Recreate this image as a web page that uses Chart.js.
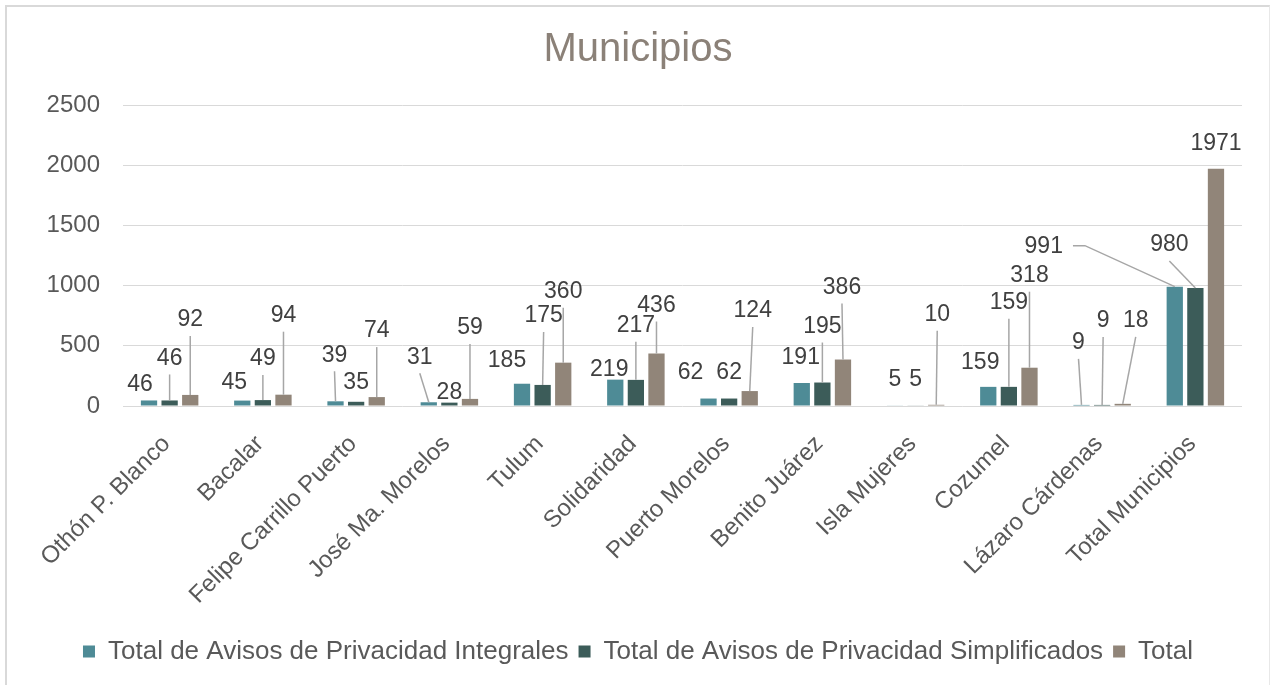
<!DOCTYPE html>
<html><head><meta charset="utf-8">
<script src="https://cdn.jsdelivr.net/npm/chart.js@4/dist/chart.umd.min.js"></script>
<style>
html,body{margin:0;padding:0;background:#fff;overflow:hidden;}
#wrap{position:absolute;left:5px;top:5px;width:1262px;height:678px;border-left:2px solid #D9D9D9;border-top:2px solid #D9D9D9;border-right:1px solid #E8E8E8;}
canvas{display:block;}
</style></head><body>
<div id="wrap"><canvas id="c" width="1262" height="678"></canvas></div>
<script>
const categories = ["Othón P. Blanco","Bacalar","Felipe Carrillo Puerto","José Ma. Morelos","Tulum","Solidaridad","Puerto Morelos","Benito Juárez","Isla Mujeres","Cozumel","Lázaro Cárdenas","Total Municipios"];
const seriesNames = ["Total de Avisos de Privacidad Integrales","Total de Avisos de Privacidad Simplificados","Total"];
const integrales = [46,45,39,31,185,219,62,191,5,159,9,991];
const simplificados = [46,49,35,28,175,217,62,195,5,159,9,980];
const totales = [92,94,74,59,360,436,124,386,10,318,18,1971];
const yTicks = [0,500,1000,1500,2000,2500];
const chartTitle = "Municipios";

const FONT = "'Liberation Sans', Arial, sans-serif";
const colors = ["#4E8B96","#3C5C59","#918579"];

// label placement (style): [dx, dy, leaderType] relative to top-centre of each bar
const labelPlacement = [
  [[-9,-17,0],[-8,-19,0],[-1,-47,1],[-9,-46,1],[-15,-24,0],[-6,-11,0],[-18,-27,0],[-1,-26,0],[0,-27,0],[-8,-25,0],[-3,-63,1],[-131,-41,2]],
  [[0,-43,1],[0,-42,1],[0,-20,0],[0,-11,0],[1,-70,1],[0,-55,1],[0,-27,0],[0,-57,1],[0,-27,0],[0,-85,1],[1,-85,1],[-26,-44,1]],
  [[0,-76,1],[0,-80,1],[0,-67,1],[0,-72,1],[0,-72,1],[0,-49,1],[3,-81,1],[-1,-73,1],[1,-91,1],[0,-93,1],[13,-84,1],[0,-26,0]]
];

const dataLabelPlugin = {
  id: 'dataLabels',
  afterDatasetsDraw(chart) {
    const ctx = chart.ctx;
    ctx.save();
    ctx.font = "23px " + FONT;
    ctx.textAlign = 'center';
    ctx.textBaseline = 'middle';
    chart.data.datasets.forEach((ds, d) => {
      const meta = chart.getDatasetMeta(d);
      meta.data.forEach((bar, i) => {
        const p = labelPlacement[d][i];
        const bx = bar.x, by = bar.y;
        const lx = bx + p[0], ly = by + p[1];
        const txt = String(ds.data[i]);
        const w = ctx.measureText(txt).width;
        ctx.strokeStyle = '#A6A6A6';
        ctx.lineWidth = 1.5;
        if (p[2] === 1) {
          ctx.beginPath(); ctx.moveTo(lx, ly + 17); ctx.lineTo(bx, by); ctx.stroke();
        } else if (p[2] === 2) {
          ctx.beginPath();
          ctx.moveTo(lx + w/2 + 10, ly);
          ctx.lineTo(lx + w/2 + 22, ly);
          ctx.lineTo(bx, by);
          ctx.stroke();
        }
        ctx.fillStyle = '#404040';
        ctx.fillText(txt, lx, ly + 1);
      });
    });
    ctx.restore();
  }
};

new Chart(document.getElementById('c'), {
  type: 'bar',
  data: {
    labels: categories,
    datasets: [
      { label: seriesNames[0], data: integrales, backgroundColor: colors[0], borderWidth: 0 },
      { label: seriesNames[1], data: simplificados, backgroundColor: colors[1], borderWidth: 0 },
      { label: seriesNames[2], data: totales, backgroundColor: colors[2], borderWidth: 0 }
    ]
  },
  options: {
    responsive: false,
    animation: false,
    devicePixelRatio: 1,
    categoryPercentage: 0.663,
    barPercentage: 0.79,
    layout: { padding: { left: 0, right: 0, top: 0, bottom: 10.5 } },
    plugins: {
      title: {
        display: true, text: chartTitle, color: '#8B8178',
        font: { family: FONT, size: 40, weight: 'normal' },
        padding: { top: 19, bottom: 31 }
      },
      legend: {
        position: 'bottom',
        labels: {
          color: '#595959', font: { family: FONT, size: 26 },
          boxWidth: 12, boxHeight: 12, padding: 10
        }
      },
      tooltip: { enabled: false }
    },
    scales: {
      x: {
        grid: { display: false },
        border: { display: false },
        ticks: {
          color: '#595959', font: { family: FONT, size: 24 },
          maxRotation: 45, minRotation: 45, autoSkip: false,
          padding: 16, labelOffset: -3
        },
        afterFit(s) { s.height = 222.5; }
      },
      y: {
        min: 0, max: 2500,
        grid: { color: '#D9D9D9', lineWidth: 1, drawTicks: false },
        border: { display: false },
        ticks: { color: '#595959', font: { family: FONT, size: 24 }, padding: 23, stepSize: 500,
                 callback: v => String(v) },
        afterBuildTicks(s) { s.ticks = yTicks.map(v => ({ value: v })); },
        afterFit(s) { s.width = 116; }
      },
      yR: {
        type: 'linear', position: 'right', display: true,
        grid: { display: false }, border: { display: false },
        ticks: { display: false },
        afterFit(s) { s.width = 27; }
      }
    }
  },
  plugins: [dataLabelPlugin]
});
</script>
</body></html>
